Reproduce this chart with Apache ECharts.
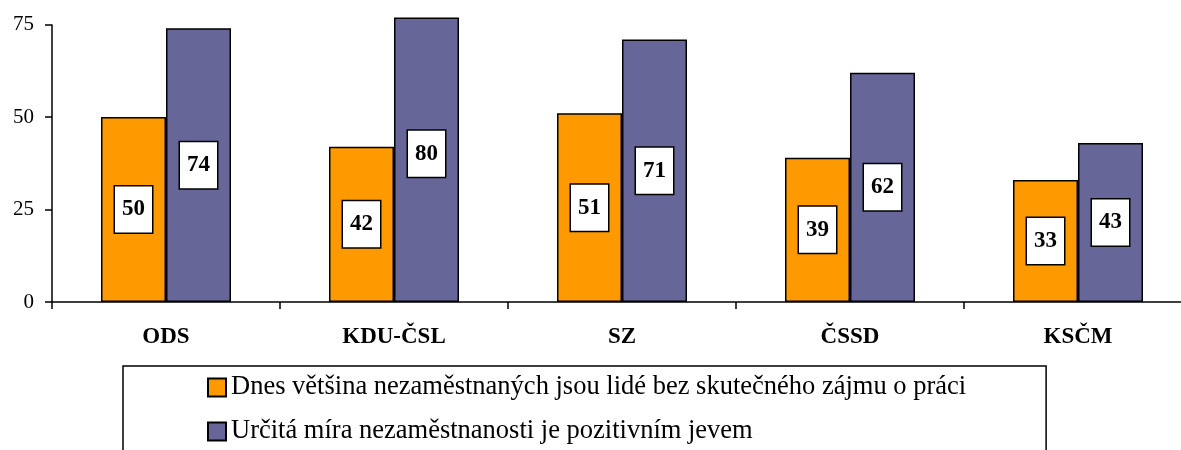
<!DOCTYPE html>
<html>
<head>
<meta charset="utf-8">
<script src="https://cdn.jsdelivr.net/npm/echarts@6/dist/echarts.min.js"></script>
<style>
html,body{margin:0;padding:0;background:#fff;}
#chart{width:1181px;height:450px;}
</style>
</head>
<body>
<div id="chart"></div>
<script>
const categories = ['ODS', 'KDU-ČSL', 'SZ', 'ČSSD', 'KSČM'];
const seriesNames = [
  'Dnes většina nezaměstnaných jsou lidé bez skutečného zájmu o práci',
  'Určitá míra nezaměstnanosti je pozitivním jevem'
];
const valuesA = [50, 42, 51, 39, 33];
const valuesB = [74, 80, 71, 62, 43];
const yTicks = [0, 25, 50, 75];

const colors = ['#FF9900', '#666699'];
const serif = '"Liberation Serif", "DejaVu Serif", serif';
const yMax = 76.7;

const chart = echarts.init(document.getElementById('chart'), null, {renderer: 'canvas'});

function makeSeries(name, data, color) {
  return {
    name: name,
    type: 'bar',
    data: data,
    barWidth: 65,
    barGap: '0%',
    clip: true,
    itemStyle: {color: color, borderColor: '#000', borderWidth: 1.5},
    label: {
      show: true,
      position: 'inside',
      fontFamily: serif,
      fontWeight: 'bold',
      fontSize: 23,
      lineHeight: 22,
      color: '#000',
      backgroundColor: '#fff',
      borderColor: '#000',
      borderWidth: 1.5,
      padding: [12, 7, 12, 7]
    },
    emphasis: {disabled: true}
  };
}

const option = {
  animation: false,
  backgroundColor: '#fff',
  grid: {left: 52, width: 1140, top: 18.3, bottom: 148, containLabel: false, outerBoundsMode: 'none'},
  legend: {
    orient: 'vertical',
    left: 123,
    top: 366,
    height: 140,
    padding: [8, 80, 30, 84],
    itemGap: 17,
    itemWidth: 18,
    itemHeight: 18,
    icon: 'rect',
    borderColor: '#000',
    borderWidth: 1.5,
    textStyle: {fontFamily: serif, fontSize: 26.5, lineHeight: 26, color: '#000'},
    data: seriesNames
  },
  xAxis: {
    type: 'category',
    data: categories,
    axisLine: {lineStyle: {color: '#000', width: 1.5}},
    axisTick: {show: true, length: 7, lineStyle: {color: '#000', width: 1.5}},
    axisLabel: {fontFamily: serif, fontWeight: 'bold', fontSize: 23, color: '#000', margin: 24}
  },
  yAxis: {
    type: 'value',
    min: 0,
    max: yMax,
    interval: 25,
    splitLine: {show: false},
    axisLine: {show: false},
    axisTick: {show: true, length: 7, customValues: yTicks, lineStyle: {color: '#000', width: 1.5}},
    axisLabel: {fontFamily: serif, fontSize: 21, color: '#000', margin: 18, customValues: yTicks}
  },
  series: [
    makeSeries(seriesNames[0], valuesA, colors[0]),
    makeSeries(seriesNames[1], valuesB, colors[1])
  ]
};

chart.setOption(option);

// y axis line from 0 up to the last tick (75), as in the reference
const pTop = chart.convertToPixel({gridIndex: 0}, [0, yTicks[yTicks.length - 1]]);
const pBot = chart.convertToPixel({gridIndex: 0}, [0, 0]);
const pMax = chart.convertToPixel({gridIndex: 0}, [0, yMax]);
const xAxisPos = 52;

// labels of bars cut off at the top stay centred on the full (unclipped) bar
function withOffsets(values) {
  return values.map(function (v) {
    if (v <= yMax) return v;
    const pv = chart.convertToPixel({gridIndex: 0}, [0, v]);
    return {value: v, label: {offset: [0, (pv[1] - pMax[1]) / 2]}};
  });
}

chart.setOption({
  series: [{data: withOffsets(valuesA)}, {data: withOffsets(valuesB)}],
  graphic: [{
    type: 'line',
    shape: {x1: xAxisPos, y1: pTop[1], x2: xAxisPos, y2: pBot[1]},
    style: {stroke: '#000', lineWidth: 1.5},
    z: 10
  }]
});
</script>
</body>
</html>
